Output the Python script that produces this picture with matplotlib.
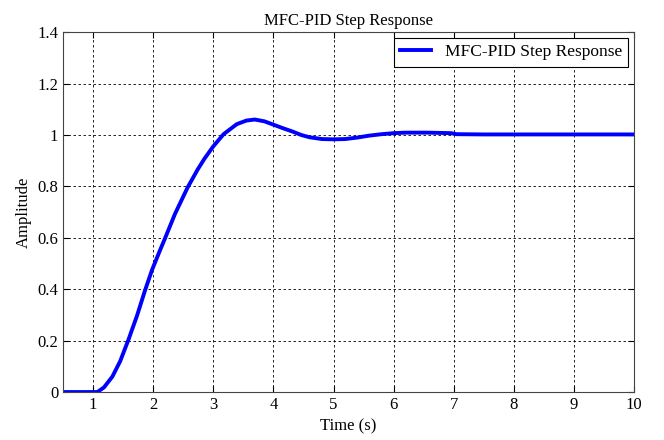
import matplotlib.pyplot as plt
import numpy as np

plt.rcParams['font.family'] = ['Liberation Serif', 'DejaVu Serif']

# step response
time = [0.5, 1.0, 1.07, 1.18, 1.32, 1.45, 1.59, 1.73, 1.86, 1.98, 2.11, 2.20,
        2.36, 2.57, 2.74, 2.85, 3.0, 3.17, 3.39, 3.55, 3.69, 3.85, 4.0, 4.16,
        4.32, 4.46, 4.60, 4.81, 5.0, 5.19, 5.40, 5.58, 5.80, 6.0, 6.2, 6.56,
        6.95, 7.05, 7.5, 8.0, 9.0, 10.0]
amplitude = [0.0, 0.0, 0.0, 0.018, 0.06, 0.12, 0.205, 0.297, 0.393, 0.475, 0.55, 0.60,
             0.692, 0.795, 0.866, 0.907, 0.956, 1.003, 1.042, 1.056, 1.06, 1.053, 1.04, 1.026,
             1.013, 1.0, 0.991, 0.984, 0.983, 0.984, 0.99, 0.997, 1.003, 1.007, 1.009, 1.009,
             1.007, 1.003, 1.002, 1.002, 1.002, 1.002]

xticks = np.arange(1, 11)
yticks = np.arange(0, 1.41, 0.2)
ylabels = ['0', '0.2', '0.4', '0.6', '0.8', '1', '1.2', '1.4']

fig = plt.figure(figsize=(6.64, 4.4), dpi=100)
ax = fig.add_axes([0.095, 0.109, 0.86, 0.818])
ax.plot(time, amplitude, color='#0000ff', lw=2.8, label='MFC-PID Step Response')
ax.set_xlim(0.5, 10)
ax.set_ylim(0, 1.4)
ax.set_xticks(xticks)
ax.set_yticks(yticks)
ax.set_yticklabels(ylabels)
ax.grid(True, color='black', linestyle=(0, (3, 3)), linewidth=0.6)
ax.tick_params(direction='in', top=True, right=True, labelsize=12, length=4)
for s in ax.spines.values():
    s.set_color('#444444')
ax.set_xlabel('Time (s)', fontsize=12)
ax.set_ylabel('Amplitude', fontsize=12)
ax.set_title('MFC-PID Step Response', fontsize=12, pad=5)
leg = ax.legend(loc='upper right', fontsize=12.5, fancybox=False, framealpha=1,
                edgecolor='black', handlelength=1.8, borderaxespad=0.35,
                borderpad=0.35)
leg.get_frame().set_linewidth(0.8)

fig.savefig('out.png', dpi=100)
